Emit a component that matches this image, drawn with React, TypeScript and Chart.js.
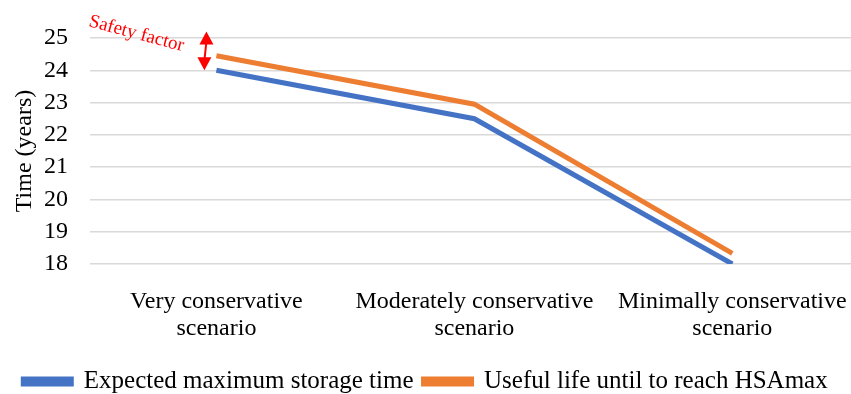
import React, { useEffect, useRef } from "react";
import { Chart, registerables } from "chart.js";

Chart.register(...registerables);

const categories: string[][] = [
  ["Very conservative", "scenario"],
  ["Moderately conservative", "scenario"],
  ["Minimally conservative", "scenario"],
];
const expectedStorage: number[] = [24.0, 22.5, 18.0];
const usefulLife: number[] = [24.45, 22.95, 18.33];
const seriesNames: string[] = ["Expected maximum storage time", "Useful life until to reach HSAmax"];
const yTicks: number[] = [18, 19, 20, 21, 22, 23, 24, 25];

const FONT = "'Liberation Serif', serif";
const FS = 24;

const annotationPlugin = {
  id: "safetyAnnotation",
  afterDraw(chart: any) {
    const ctx = chart.ctx;
    const x = chart.scales.x;
    const y = chart.scales.y;
    ctx.save();
    ctx.fillStyle = "#ff0000";
    ctx.font = `19px ${FONT}`;
    ctx.translate(88, 26);
    ctx.rotate((15 * Math.PI) / 180);
    ctx.textBaseline = "alphabetic";
    ctx.fillText("Safety factor", 0, 0);
    ctx.restore();

    const px = x.getPixelForValue(0) - 10;
    const yTop = y.getPixelForValue(25.2);
    const yBot = y.getPixelForValue(24.0);
    ctx.save();
    ctx.strokeStyle = "#ff0000";
    ctx.fillStyle = "#ff0000";
    ctx.lineWidth = 2;
    ctx.beginPath();
    ctx.moveTo(px, yTop + 10);
    ctx.lineTo(px - 2, yBot - 10);
    ctx.stroke();
    const hw = 7;
    const hl = 13;
    ctx.beginPath();
    ctx.moveTo(px, yTop);
    ctx.lineTo(px - hw, yTop + hl);
    ctx.lineTo(px + hw, yTop + hl);
    ctx.closePath();
    ctx.fill();
    ctx.beginPath();
    ctx.moveTo(px - 2, yBot);
    ctx.lineTo(px - 2 - hw, yBot - hl);
    ctx.lineTo(px - 2 + hw, yBot - hl);
    ctx.closePath();
    ctx.fill();
    ctx.restore();
  },
};

export default function App() {
  const ref = useRef<HTMLCanvasElement | null>(null);
  useEffect(() => {
    document.body.style.margin = "0";
    const canvas = ref.current!;
    const chart = new Chart(canvas, {
      type: "line",
      data: {
        datasets: [
          {
            label: seriesNames[0],
            data: expectedStorage.map((v, i) => ({ x: i, y: v })),
            borderColor: "#4472C4",
            backgroundColor: "#4472C4",
            borderWidth: 5,
            pointRadius: 0,
            tension: 0,
          },
          {
            label: seriesNames[1],
            data: usefulLife.map((v, i) => ({ x: i, y: v })),
            borderColor: "#ED7D31",
            backgroundColor: "#ED7D31",
            borderWidth: 5,
            pointRadius: 0,
            tension: 0,
          },
        ],
      },
      options: {
        animation: false,
        responsive: false,
        maintainAspectRatio: false,
        layout: { padding: { top: 38, right: 0, left: 0, bottom: -10 } },
        plugins: {
          tooltip: { enabled: false },
          legend: {
            position: "bottom",
            labels: {
              font: { family: FONT, size: 25 },
              color: "#000",
              boxWidth: 48,
              boxHeight: 5,
              padding: 10,
            },
          },
        },
        scales: {
          x: {
            type: "linear",
            min: -0.49,
            max: 2.46,
            afterBuildTicks: (scale: any) => {
              scale.ticks = categories.map((_, i) => ({ value: i }));
            },
            afterFit: (scale: any) => {
              scale.paddingLeft = 0;
              scale.paddingRight = 0;
              scale.height = 95;
            },
            ticks: {
              autoSkip: false,
              maxRotation: 0,
              color: "#000",
              font: { family: FONT, size: FS, lineHeight: 1.12 },
              padding: 16,
              callback: (v: any) => categories[v as number],
            },
            grid: { display: false },
            border: { display: false },
          },
          y: {
            min: 18,
            max: 25,
            afterBuildTicks: (scale: any) => {
              scale.ticks = yTicks.map((v) => ({ value: v }));
            },
            afterFit: (scale: any) => {
              scale.width = 90;
            },
            ticks: {
              autoSkip: false,
              color: "#000",
              font: { family: FONT, size: FS },
              padding: 22,
            },
            grid: { color: "#d9d9d9", lineWidth: 1.5, drawTicks: false },
            border: { display: false },
            title: {
              display: true,
              text: "Time (years)",
              color: "#000",
              font: { family: FONT, size: FS },
              padding: { top: 10, bottom: 0 },
            },
          },
        },
      },
      plugins: [annotationPlugin],
    });
    return () => chart.destroy();
  }, []);
  return (
    <div style={{ width: 851, height: 394 }}>
      <canvas ref={ref} width={851} height={394} style={{ display: "block" }} />
    </div>
  );
}
